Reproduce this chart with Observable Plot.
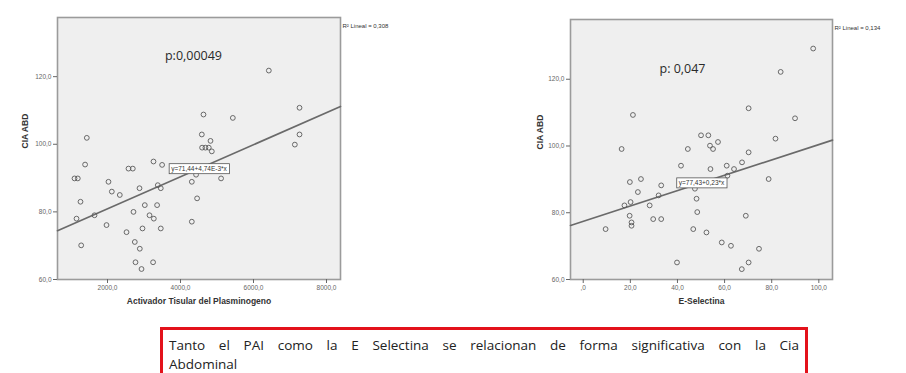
<!DOCTYPE html>
<html>
<head>
<meta charset="utf-8">
<script src="https://cdn.jsdelivr.net/npm/d3@7"></script>
<script src="https://cdn.jsdelivr.net/npm/@observablehq/plot@0.6"></script>
<style>
  html, body { margin: 0; padding: 0; background: #fff; }
  body { width: 906px; height: 373px; overflow: hidden; position: relative; font-family: "Liberation Sans", Arial, sans-serif; }
  #left { position: absolute; left: 0; top: 0; }
  #right { position: absolute; left: 453px; top: 0; }
  #note { position: absolute; left: 160px; top: 327px; width: 630px; height: 60px; border: 3px solid #e3121b; padding: 6px 6px 0 6px; font-family: "Open Sans", "Liberation Sans", sans-serif; font-size: 13.5px; line-height: 19px; color: #222; }
  #note .l1 { text-align: justify; text-align-last: justify; white-space: nowrap; }
  svg { overflow: visible; }
</style>
</head>
<body>
<div id="left"></div>
<div id="right"></div>
<div id="note"><div class="l1">Tanto el PAI como la E Selectina se relacionan de forma significativa con la Cia</div><div>Abdominal</div></div>
<script>
// ---------- Left chart: Activador Tisular del Plasminógeno vs CIA ABD ----------
const tpaX = [6420, 7261, 4630, 5434, 1433, 4584, 4822, 7261, 7133, 4592, 4683, 4775, 4858,
  1386, 2575, 2693, 3260, 3496, 1096, 1186, 2027, 4310, 4427, 5112, 3378, 3460, 2877, 2118,
  2337, 1260, 4455, 3022, 3359, 2712, 3151, 3269, 1644, 1151, 4310, 1973, 2959, 3460, 2521,
  2748, 1279, 2885, 2767, 3249, 2932];
const tpaCia = [121.8, 110.8, 108.8, 107.8, 101.9, 102.9, 101.0, 102.9, 99.9, 99.0, 99.0, 99.0, 97.9,
  94.0, 92.8, 92.8, 94.9, 93.9, 89.9, 89.9, 88.9, 88.9, 91.0, 89.9, 87.9, 87.0, 87.0, 86.0,
  85.0, 83.0, 84.0, 82.0, 82.0, 80.0, 79.0, 78.0, 79.0, 78.0, 77.1, 76.1, 75.1, 75.1, 74.0,
  71.1, 70.1, 69.1, 65.1, 65.1, 63.1];
const tpaFit = { intercept: 71.44, slope: 0.00474 };
const tpaEq = "y=71,44+4,74E-3*x";
const tpaR2 = "R² Lineal = 0,308";
const tpaP = "p:0,00049";
const tpaXTicks = [2000, 4000, 6000, 8000];
const tpaXTickLabels = ["2000,0", "4000,0", "6000,0", "8000,0"];
const tpaXLabel = "Activador Tisular del Plasminogeno";

// ---------- Right chart: E-Selectina vs CIA ABD ----------
const selX = [97.6, 83.8, 70.2, 89.9, 21.1, 16.3, 50.0, 53.1, 81.6, 57.2, 44.4, 53.8, 55.1, 70.2,
  41.5, 54.0, 60.9, 64.0, 67.4, 61.2, 78.7, 19.8, 24.5, 33.1, 23.2, 32.0, 47.4, 48.1, 17.5, 20.1,
  28.2, 48.4, 19.7, 69.0, 29.7, 33.1, 20.5, 20.5, 9.5, 46.7, 52.3, 58.8, 62.7, 74.6, 39.8, 70.2, 67.3];
const selCia = [129.2, 122.2, 111.3, 108.3, 109.3, 99.1, 103.2, 103.2, 102.2, 101.2, 99.1, 100.1, 99.1, 98.1,
  94.1, 93.1, 94.1, 93.1, 95.1, 91.1, 90.1, 89.2, 90.1, 88.2, 86.2, 85.2, 87.2, 84.2, 82.2, 83.2,
  82.2, 80.2, 79.1, 79.1, 78.1, 78.1, 77.1, 76.1, 75.1, 75.1, 74.1, 71.1, 70.1, 69.2, 65.1, 65.1, 63.1];
const selFit = { intercept: 77.43, slope: 0.23 };
const selEq = "y=77,43+0,23*x";
const selR2 = "R² Lineal = 0,134";
const selP = "p: 0,047";
const selXTicks = [0, 20, 40, 60, 80, 100];
const selXTickLabels = [",0", "20,0", "40,0", "60,0", "80,0", "100,0"];
const selXLabel = "E-Selectina";

// ---------- shared ----------
const yTicks = [60, 80, 100, 120];
const yTickLabels = ["60,0", "80,0", "100,0", "120,0"];
const yLabel = "CIA ABD";

function scatter({xs, ys, fit, eq, r2, p, xDomain, yDomain, xTicks, xTickLabels, xLabel,
                  marginLeft, marginRight, marginTop, marginBottom, pDx, pDy, yLabelDx}) {
  const pts = xs.map((x, i) => ({x, y: ys[i]}));
  const fitPts = xDomain.map(x => ({x, y: fit.intercept + fit.slope * x}));
  const midX = (xDomain[0] + xDomain[1]) / 2;
  const eqPt = [{x: midX, y: fit.intercept + fit.slope * midX, t: eq}];
  const tickStyle = {fontSize: 6.5, color: "#666", tickSize: 4, tickPadding: 2, label: null};
  return Plot.plot({
    width: 453, height: 315,
    marginLeft, marginRight, marginTop, marginBottom,
    style: {fontFamily: "'Liberation Sans', Arial, sans-serif", background: "transparent", overflow: "visible"},
    x: {domain: xDomain},
    y: {domain: yDomain},
    marks: [
      Plot.frame({fill: "#efefef", stroke: "#9b9b9b", strokeWidth: 1.6}),
      Plot.axisX({...tickStyle, ticks: xTicks, tickFormat: d => xTickLabels[xTicks.indexOf(d)]}),
      Plot.axisY({...tickStyle, ticks: yTicks, tickFormat: d => yTickLabels[yTicks.indexOf(d)]}),
      Plot.line(fitPts, {x: "x", y: "y", stroke: "#6a6a6a", strokeWidth: 1.7}),
      Plot.dot(pts, {x: "x", y: "y", r: 2.4, stroke: "#5a5a5a", strokeWidth: 0.9, fill: "none"}),
      Plot.text(eqPt, {x: "x", y: "y", text: "t", fontSize: 6.5, fill: "#333"}),
      Plot.text([p], {frameAnchor: "top-left", dx: pDx, dy: pDy, fontSize: 12.5, fill: "#2a2a2a",
                      fontFamily: "'Open Sans', 'Liberation Sans', sans-serif", textAnchor: "middle"}),
      Plot.text([r2], {frameAnchor: "top-right", dx: 2, dy: 6, textAnchor: "start", fontSize: 6, fill: "#333"}),
      Plot.text([xLabel], {frameAnchor: "bottom", dy: 24, fontSize: 8.5, fontWeight: "bold", fill: "#333"}),
      Plot.text([yLabel], {frameAnchor: "left", dx: yLabelDx, rotate: -90, fontSize: 8.5, fontWeight: "bold", fill: "#333"})
    ]
  });
}

const left = scatter({
  xs: tpaX, ys: tpaCia, fit: tpaFit, eq: tpaEq, r2: tpaR2, p: tpaP,
  xDomain: [630, 8384], yDomain: [60, 137.5], xTicks: tpaXTicks, xTickLabels: tpaXTickLabels, xLabel: tpaXLabel,
  marginLeft: 57, marginRight: 113, marginTop: 17, marginBottom: 36, pDx: 136, pDy: 34, yLabelDx: -32
});
const right = scatter({
  xs: selX, ys: selCia, fit: selFit, eq: selEq, r2: selR2, p: selP,
  xDomain: [-5.4, 105.8], yDomain: [60, 137.9], xTicks: selXTicks, xTickLabels: selXTickLabels, xLabel: selXLabel,
  marginLeft: 117, marginRight: 74, marginTop: 19, marginBottom: 36, pDx: 112, pDy: 45, yLabelDx: -30
});
document.getElementById("left").appendChild(left);
document.getElementById("right").appendChild(right);

// white boxes behind the regression-equation labels
for (const [svg, eq] of [[left, tpaEq], [right, selEq]]) {
  d3.select(svg).selectAll("text").filter(function() { return this.textContent === eq; }).each(function() {
    const b = this.getBBox();
    d3.select(this.parentNode).insert("rect", () => this)
      .attr("transform", this.getAttribute("transform"))
      .attr("x", b.x - 2).attr("y", b.y - 1)
      .attr("width", b.width + 4).attr("height", b.height + 2)
      .attr("fill", "#fff").attr("stroke", "#555").attr("stroke-width", 0.8);
  });
}
</script>
</body>
</html>
